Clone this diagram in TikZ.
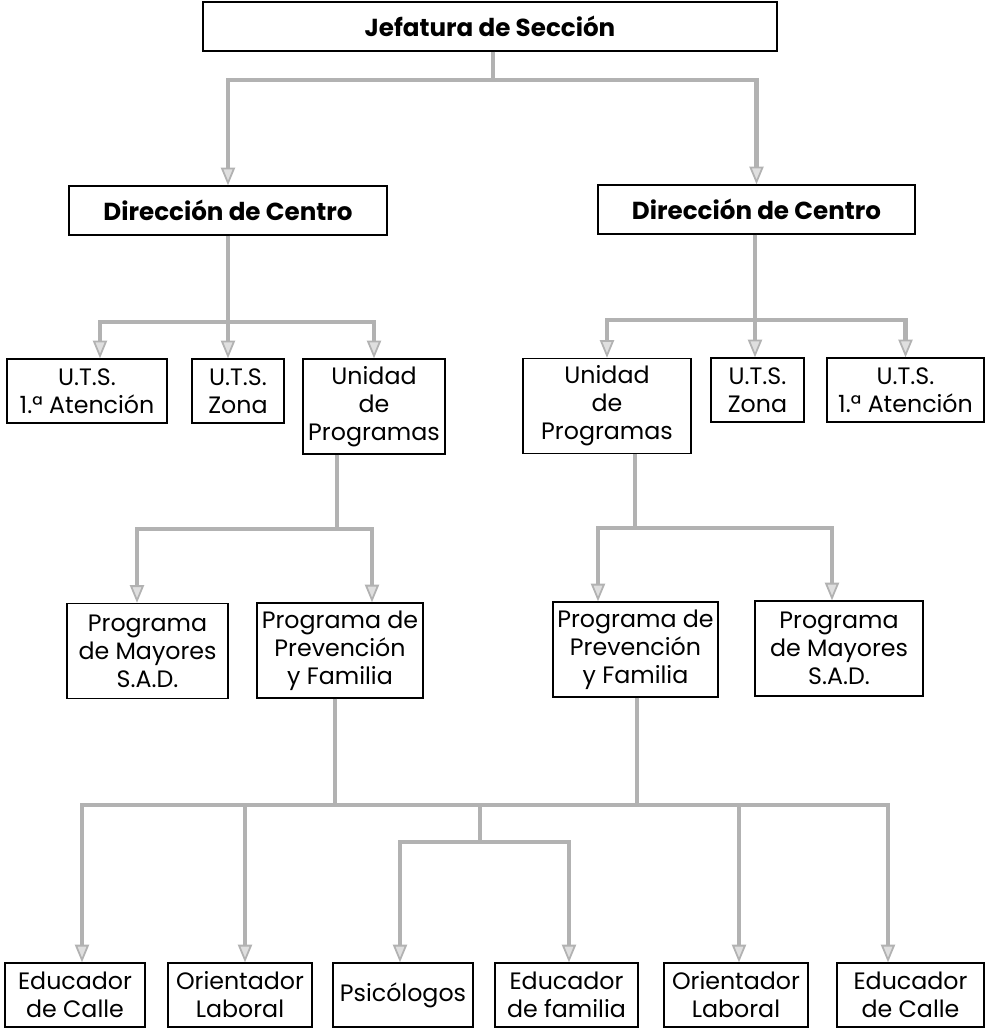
\documentclass[tikz,border=0pt]{standalone}
\usepackage{fontspec}
\setmainfont{Poppins}
\usetikzlibrary{arrows.meta}

\begin{document}
\begin{tikzpicture}[x=0.02cm,y=-0.02cm,
  box/.style={draw, line width=0.8pt, fill=white, align=center, inner sep=1pt,
    font=\fontsize{13.5}{16}\selectfont},
  small/.style={box, minimum height=1.28cm},
  tall/.style={box, minimum height=1.9cm},
  head/.style={box, minimum height=0.98cm, font=\bfseries\fontsize{14}{16}\selectfont},
  link/.style={draw=gray!60, line width=2.4pt},
  arr/.style={link, -{Triangle[open, fill=gray!25, length=10pt, width=8pt, line width=1pt]}}]

\useasboundingbox (0,0) rectangle (985,1031);

% boxes
\node[head, minimum width=11.48cm] (jefe) at (490,26.5) {Jefatura de Sección};
\node[head, minimum width=6.36cm] (dirl) at (228,210.5) {Dirección de Centro};
\node[head, minimum width=6.34cm] (dirr) at (756.5,209.5) {Dirección de Centro};

\node[small, minimum width=3.2cm] (utsal) at (87,391) {U.T.S.\\1.ª Atención};
\node[small, minimum width=1.84cm] (zonal) at (238,391) {U.T.S.\\Zona};
\node[tall, minimum width=2.84cm] (unil) at (374,406.5) {Unidad\\de\\Programas};
\node[tall, minimum width=3.36cm] (unir) at (607,406) {Unidad\\de\\Programas};
\node[small, minimum width=1.86cm] (zonar) at (757.5,390) {U.T.S.\\Zona};
\node[small, minimum width=3.14cm] (utsar) at (905.5,390) {U.T.S.\\1.ª Atención};

\node[tall, minimum width=3.22cm] (mayl) at (147.5,651) {Programa\\de Mayores\\S.A.D.};
\node[tall, minimum width=3.32cm] (prevl) at (340,650.5) {Programa de\\Prevención\\y Familia};
\node[tall, minimum width=3.3cm] (prevr) at (635.5,649.5) {Programa de\\Prevención\\y Familia};
\node[tall, minimum width=3.36cm] (mayr) at (839,648.5) {Programa\\de Mayores\\S.A.D.};

\node[small, minimum width=2.8cm] (ecl) at (75,995) {Educador\\de Calle};
\node[small, minimum width=2.88cm] (oll) at (240,995) {Orientador\\Laboral};
\node[small, minimum width=2.8cm] (psi) at (403,995) {Psicólogos};
\node[small, minimum width=2.86cm] (efam) at (566.5,995) {Educador\\de familia};
\node[small, minimum width=2.88cm] (olr) at (736,995) {Orientador\\Laboral};
\node[small, minimum width=2.94cm] (ecr) at (910.5,995) {Educador\\de Calle};

% first level
\coordinate (c0) at (493,80);
\draw[link] (jefe.south -| c0) -- (c0);
\draw[arr] (c0) -| (dirl);
\draw[arr] (c0) -| (dirr);

% second level
\coordinate (c1) at (228,322);
\coordinate (c1a) at (100,322);
\draw[link] (dirl) -- (c1);
\draw[arr] (c1) -| (c1a |- utsal.north);
\draw[arr] (c1) -- (c1 |- zonal.north);
\draw[arr] (c1) -| (unil);

\coordinate (c2) at (755,320);
\draw[link] (dirr.south -| c2) -- (c2);
\draw[arr] (c2) -| (unir);
\draw[arr] (c2) -- (c2 |- zonar.north);
\draw[arr] (c2) -| (utsar);

% programs
\coordinate (c3) at (337,529);
\coordinate (c3a) at (137,529);
\coordinate (c3b) at (372,529);
\draw[link] (unil.south -| c3) -- (c3);
\draw[arr] (c3) -| (c3a |- mayl.north);
\draw[arr] (c3) -| (c3b |- prevl.north);

\coordinate (c4) at (635,528);
\coordinate (c4a) at (598,528);
\coordinate (c4b) at (832,528);
\draw[link] (unir.south -| c4) -- (c4);
\draw[arr] (c4) -| (c4a |- prevr.north);
\draw[arr] (c4) -| (c4b |- mayr.north);

% staff
\coordinate (c5) at (335,805);
\coordinate (c6) at (637,805);
\coordinate (c7) at (480,805);
\coordinate (c8) at (480,842);
\coordinate (e1) at (82,805);
\coordinate (e2) at (245,805);
\coordinate (e3) at (400,842);
\coordinate (e4) at (569,842);
\coordinate (e5) at (739,805);
\coordinate (e6) at (888,805);
\draw[link] (prevl.south -| c5) -- (c5);
\draw[link] (prevr.south -| c6) -- (c6);
\draw[link] (c5) -- (c6);
\draw[arr] (c5) -| (e1 |- ecl.north);
\draw[arr] (e2) -- (e2 |- oll.north);
\draw[link] (c7) -- (c8);
\draw[arr] (c8) -| (e3 |- psi.north);
\draw[arr] (c8) -| (e4 |- efam.north);
\draw[arr] (e5) -- (e5 |- olr.north);
\draw[arr] (c6) -| (e6 |- ecr.north);

\end{tikzpicture}
\end{document}
